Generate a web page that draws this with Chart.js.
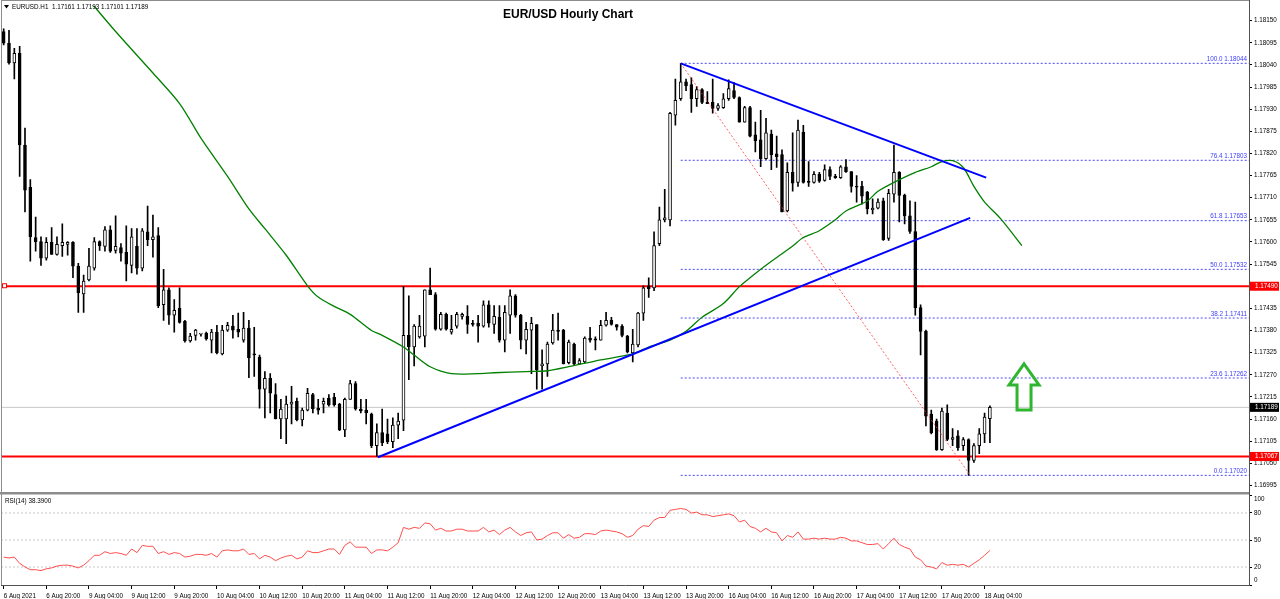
<!DOCTYPE html>
<html>
<head>
<meta charset="utf-8">
<title>EUR/USD Hourly Chart</title>
<script src="https://cdn.jsdelivr.net/npm/chart.js@4.4.1/dist/chart.umd.min.js"></script>
<style>
  html, body { margin: 0; padding: 0; background: #fff; overflow: hidden; }
  #wrap { position: relative; width: 1280px; height: 599px; }
  #priceBox { position: absolute; left: 0; top: 0; width: 1280px; height: 492px; }
  #rsiBox { position: absolute; left: 0; top: 492px; width: 1280px; height: 107px; }
</style>
</head>
<body>
<div id="wrap">
  <div id="priceBox"><canvas id="priceChart"></canvas></div>
  <div id="rsiBox"><canvas id="rsiChart"></canvas></div>
</div>
<script>
const opens = [
  1.18123, 1.18094, 1.18045, 1.18069, 1.17841, 1.17736, 1.17611, 1.17601, 1.17560, 1.17599,
  1.17569, 1.17591, 1.17594, 1.17599, 1.17540, 1.17471, 1.17506, 1.17535, 1.17601, 1.17589,
  1.17630, 1.17579, 1.17586, 1.17574, 1.17542, 1.17589, 1.17535, 1.17625, 1.17606, 1.17616,
  1.17444, 1.17481, 1.17418, 1.17435, 1.17403, 1.17354, 1.17368, 1.17371, 1.17373, 1.17356,
  1.17376, 1.17322, 1.17381, 1.17391, 1.17383, 1.17356, 1.17386, 1.17322, 1.17314, 1.17234,
  1.17261, 1.17221, 1.17160, 1.17160, 1.17197, 1.17204, 1.17158, 1.17182, 1.17221, 1.17187,
  1.17197, 1.17212, 1.17214, 1.17197, 1.17133, 1.17209, 1.17248, 1.17185, 1.17182, 1.17172,
  1.17094, 1.17126, 1.17123, 1.17104, 1.17145, 1.17157, 1.17368, 1.17339, 1.17364, 1.17366,
  1.17481, 1.17469, 1.17383, 1.17420, 1.17376, 1.17391, 1.17415, 1.17415, 1.17398, 1.17398,
  1.17391, 1.17444, 1.17395, 1.17413, 1.17356, 1.17418, 1.17466, 1.17418, 1.17356, 1.17381,
  1.17395, 1.17292, 1.17297, 1.17349, 1.17381, 1.17381, 1.17300, 1.17346, 1.17297, 1.17302,
  1.17361, 1.17359, 1.17356, 1.17393, 1.17405, 1.17395, 1.17391, 1.17366, 1.17324, 1.17344,
  1.17423, 1.17491, 1.17486, 1.17596, 1.17655, 1.17655, 1.17915, 1.17956, 1.17998, 1.17991,
  1.17956, 1.17979, 1.17947, 1.17947, 1.17932, 1.17934, 1.17956, 1.17976, 1.17959, 1.17898,
  1.17934, 1.17866, 1.17854, 1.17807, 1.17868, 1.17819, 1.17817, 1.17677, 1.17773, 1.17748,
  1.17873, 1.17751, 1.17748, 1.17768, 1.17753, 1.17780, 1.17763, 1.17760, 1.17787, 1.17775,
  1.17738, 1.17738, 1.17724, 1.17680, 1.17684, 1.17702, 1.17609, 1.17719, 1.17773, 1.17716,
  1.17665, 1.17626, 1.17437, 1.17378, 1.17172, 1.17155, 1.17084, 1.17175, 1.17109, 1.17118,
  1.17094, 1.17109, 1.17057, 1.17094, 1.17123, 1.17161,
];
const highs = [
  1.18130, 1.18126, 1.18081, 1.18086, 1.17883, 1.17755, 1.17662, 1.17613, 1.17611, 1.17636,
  1.17613, 1.17645, 1.17601, 1.17601, 1.17547, 1.17518, 1.17584, 1.17611, 1.17603, 1.17638,
  1.17640, 1.17665, 1.17596, 1.17640, 1.17633, 1.17633, 1.17633, 1.17689, 1.17667, 1.17636,
  1.17532, 1.17486, 1.17457, 1.17486, 1.17405, 1.17373, 1.17383, 1.17373, 1.17376, 1.17383,
  1.17393, 1.17393, 1.17400, 1.17418, 1.17423, 1.17425, 1.17405, 1.17388, 1.17319, 1.17278,
  1.17273, 1.17248, 1.17209, 1.17217, 1.17241, 1.17212, 1.17187, 1.17236, 1.17224, 1.17209,
  1.17212, 1.17221, 1.17224, 1.17199, 1.17212, 1.17256, 1.17253, 1.17209, 1.17209, 1.17175,
  1.17148, 1.17185, 1.17160, 1.17163, 1.17175, 1.17490, 1.17466, 1.17395, 1.17418, 1.17481,
  1.17535, 1.17474, 1.17425, 1.17423, 1.17418, 1.17425, 1.17423, 1.17442, 1.17405, 1.17418,
  1.17454, 1.17454, 1.17442, 1.17442, 1.17442, 1.17481, 1.17469, 1.17420, 1.17400, 1.17413,
  1.17395, 1.17332, 1.17351, 1.17420, 1.17423, 1.17383, 1.17356, 1.17349, 1.17310, 1.17364,
  1.17388, 1.17364, 1.17405, 1.17425, 1.17413, 1.17395, 1.17395, 1.17368, 1.17383, 1.17425,
  1.17491, 1.17511, 1.17625, 1.17687, 1.17731, 1.17922, 1.18005, 1.18044, 1.18005, 1.18008,
  1.17986, 1.17981, 1.17974, 1.18005, 1.17944, 1.17969, 1.18003, 1.17996, 1.17961, 1.17937,
  1.17937, 1.17898, 1.17927, 1.17907, 1.17878, 1.17863, 1.17829, 1.17797, 1.17871, 1.17903,
  1.17890, 1.17800, 1.17775, 1.17773, 1.17792, 1.17787, 1.17768, 1.17790, 1.17805, 1.17775,
  1.17765, 1.17751, 1.17726, 1.17707, 1.17707, 1.17709, 1.17731, 1.17841, 1.17775, 1.17719,
  1.17702, 1.17699, 1.17444, 1.17381, 1.17182, 1.17160, 1.17187, 1.17195, 1.17136, 1.17131,
  1.17114, 1.17111, 1.17099, 1.17136, 1.17175, 1.17193,
];
const lows = [
  1.18090, 1.18042, 1.18005, 1.17763, 1.17675, 1.17552, 1.17577, 1.17542, 1.17555, 1.17569,
  1.17567, 1.17564, 1.17567, 1.17511, 1.17425, 1.17425, 1.17503, 1.17530, 1.17579, 1.17577,
  1.17574, 1.17572, 1.17552, 1.17503, 1.17523, 1.17520, 1.17528, 1.17591, 1.17562, 1.17437,
  1.17405, 1.17395, 1.17376, 1.17398, 1.17351, 1.17351, 1.17356, 1.17366, 1.17356, 1.17324,
  1.17322, 1.17319, 1.17378, 1.17361, 1.17364, 1.17351, 1.17263, 1.17266, 1.17187, 1.17163,
  1.17175, 1.17160, 1.17111, 1.17099, 1.17148, 1.17155, 1.17143, 1.17180, 1.17175, 1.17172,
  1.17175, 1.17192, 1.17192, 1.17131, 1.17116, 1.17209, 1.17182, 1.17175, 1.17148, 1.17089,
  1.17067, 1.17094, 1.17099, 1.17089, 1.17111, 1.17131, 1.17258, 1.17292, 1.17361, 1.17339,
  1.17469, 1.17381, 1.17381, 1.17381, 1.17371, 1.17386, 1.17408, 1.17373, 1.17391, 1.17351,
  1.17388, 1.17388, 1.17373, 1.17351, 1.17327, 1.17373, 1.17413, 1.17334, 1.17322, 1.17273,
  1.17234, 1.17234, 1.17266, 1.17346, 1.17356, 1.17297, 1.17297, 1.17295, 1.17295, 1.17300,
  1.17351, 1.17332, 1.17356, 1.17391, 1.17393, 1.17381, 1.17364, 1.17324, 1.17302, 1.17339,
  1.17405, 1.17462, 1.17479, 1.17591, 1.17650, 1.17640, 1.17890, 1.17952, 1.17976, 1.17922,
  1.17937, 1.17944, 1.17944, 1.17920, 1.17927, 1.17932, 1.17952, 1.17956, 1.17898, 1.17898,
  1.17861, 1.17824, 1.17787, 1.17805, 1.17780, 1.17785, 1.17675, 1.17675, 1.17726, 1.17738,
  1.17746, 1.17738, 1.17746, 1.17748, 1.17751, 1.17755, 1.17758, 1.17758, 1.17773, 1.17724,
  1.17699, 1.17694, 1.17670, 1.17670, 1.17682, 1.17604, 1.17604, 1.17699, 1.17650, 1.17645,
  1.17621, 1.17418, 1.17319, 1.17143, 1.17123, 1.17082, 1.17082, 1.17106, 1.17094, 1.17082,
  1.17082, 1.17020, 1.17052, 1.17074, 1.17101, 1.17101,
];
const closes = [
  1.18094, 1.18045, 1.18069, 1.17841, 1.17729, 1.17613, 1.17601, 1.17560, 1.17599, 1.17569,
  1.17594, 1.17599, 1.17599, 1.17540, 1.17474, 1.17503, 1.17540, 1.17601, 1.17591, 1.17630,
  1.17577, 1.17589, 1.17572, 1.17545, 1.17613, 1.17535, 1.17628, 1.17606, 1.17613, 1.17442,
  1.17481, 1.17418, 1.17430, 1.17400, 1.17354, 1.17366, 1.17381, 1.17373, 1.17359, 1.17376,
  1.17324, 1.17381, 1.17393, 1.17381, 1.17376, 1.17386, 1.17312, 1.17319, 1.17234, 1.17261,
  1.17224, 1.17160, 1.17185, 1.17197, 1.17202, 1.17158, 1.17182, 1.17224, 1.17185, 1.17182,
  1.17204, 1.17195, 1.17195, 1.17133, 1.17209, 1.17248, 1.17185, 1.17180, 1.17175, 1.17094,
  1.17126, 1.17101, 1.17104, 1.17145, 1.17155, 1.17368, 1.17339, 1.17391, 1.17391, 1.17481,
  1.17469, 1.17383, 1.17420, 1.17383, 1.17383, 1.17420, 1.17420, 1.17395, 1.17395, 1.17391,
  1.17444, 1.17398, 1.17415, 1.17356, 1.17425, 1.17466, 1.17418, 1.17356, 1.17383, 1.17398,
  1.17282, 1.17297, 1.17346, 1.17381, 1.17378, 1.17297, 1.17351, 1.17297, 1.17305, 1.17361,
  1.17356, 1.17356, 1.17393, 1.17405, 1.17395, 1.17388, 1.17368, 1.17327, 1.17346, 1.17423,
  1.17486, 1.17484, 1.17591, 1.17655, 1.17660, 1.17920, 1.17952, 1.17998, 1.17988, 1.17956,
  1.17979, 1.17947, 1.17944, 1.17932, 1.17939, 1.17956, 1.17981, 1.17959, 1.17898, 1.17934,
  1.17863, 1.17851, 1.17807, 1.17871, 1.17817, 1.17812, 1.17675, 1.17773, 1.17746, 1.17878,
  1.17748, 1.17748, 1.17768, 1.17751, 1.17780, 1.17763, 1.17760, 1.17787, 1.17775, 1.17738,
  1.17736, 1.17714, 1.17682, 1.17684, 1.17699, 1.17606, 1.17721, 1.17773, 1.17716, 1.17665,
  1.17626, 1.17437, 1.17378, 1.17167, 1.17126, 1.17084, 1.17180, 1.17109, 1.17114, 1.17089,
  1.17109, 1.17057, 1.17094, 1.17123, 1.17165, 1.17189,
];

const rsi = [
  31, 30, 31, 24, 20, 17, 17, 16, 18, 19,
  21, 22, 22, 21, 19, 22, 27, 33, 33, 37,
  35, 36, 35, 33, 40, 36, 44, 43, 43, 35,
  37, 34, 36, 35, 31, 32, 34, 34, 33, 35,
  31, 38, 39, 38, 38, 40, 34, 35, 29, 33,
  31, 27, 30, 32, 33, 29, 31, 38, 36, 36,
  38, 40, 40, 34, 44, 48, 42, 42, 42, 35,
  39, 39, 38, 42, 47, 64, 62, 64, 63, 69,
  68, 61, 63, 60, 60, 62, 62, 60, 60, 60,
  64, 59, 61, 56, 61, 64, 59, 55, 58, 59,
  50, 51, 55, 58, 58, 52, 56, 52, 53, 57,
  57, 56, 60, 61, 60, 59, 57, 53, 55, 62,
  66, 65, 72, 75, 75, 83, 84, 85, 84, 80,
  81, 78, 78, 76, 77, 78, 79, 77, 70, 72,
  65, 63, 59, 63, 59, 58, 49, 55, 53, 59,
  51, 51, 52, 51, 52, 51, 51, 53, 52, 49,
  49, 47, 45, 45, 46, 40, 46, 52, 45, 42,
  40, 31, 28, 21, 20, 18, 25, 22, 23, 22,
  23, 20, 24, 28, 33, 38.39,
];

// moving average (shifted forward), read at sampled bars
const maIdx = [16, 21, 28, 33, 37, 42, 46, 49, 53, 57, 59, 62, 65, 69, 71, 75, 77, 80, 84, 89,
  92, 98, 102, 106, 112, 118, 121, 125, 128, 131, 135, 138, 140, 143, 148, 150, 153, 156, 158, 162,
  164, 167, 171, 174, 176, 178, 180, 182, 184, 187, 191];
const maVal = [1.18201, 1.18123, 1.18020, 1.17944, 1.17858, 1.17763, 1.17682, 1.17633, 1.17567, 1.17491,
  1.17463, 1.17440, 1.17420, 1.17380, 1.17368, 1.17339, 1.17319, 1.17290, 1.17273, 1.17273,
  1.17275, 1.17278, 1.17280, 1.17290, 1.17307, 1.17322, 1.17339, 1.17356, 1.17378, 1.17413,
  1.17447, 1.17489, 1.17511, 1.17542, 1.17590, 1.17611, 1.17628, 1.17655, 1.17677, 1.17702,
  1.17726, 1.17748, 1.17773, 1.17787, 1.17800, 1.17802, 1.17785, 1.17738, 1.17699, 1.17658,
  1.17591];

const tickIdx = [0, 8, 16, 24, 32, 40, 48, 56, 64, 72, 80, 88, 96, 104, 112, 120, 128, 136, 144, 152, 160, 168, 176, 184];
const tickLabels = ['6 Aug 2021', '6 Aug 20:00', '9 Aug 04:00', '9 Aug 12:00', '9 Aug 20:00', '10 Aug 04:00',
  '10 Aug 12:00', '10 Aug 20:00', '11 Aug 04:00', '11 Aug 12:00', '11 Aug 20:00', '12 Aug 04:00',
  '12 Aug 12:00', '12 Aug 20:00', '13 Aug 04:00', '13 Aug 12:00', '13 Aug 20:00', '16 Aug 04:00',
  '16 Aug 12:00', '16 Aug 20:00', '17 Aug 04:00', '17 Aug 12:00', '17 Aug 20:00', '18 Aug 04:00'];

const priceTicks = [1.16995, 1.17050, 1.17105, 1.17160, 1.17215, 1.17270, 1.17325, 1.17380, 1.17435, 1.17490,
  1.17545, 1.17600, 1.17655, 1.17710, 1.17765, 1.17820, 1.17875, 1.17930, 1.17985, 1.18040, 1.18095, 1.18150];
const rsiTicks = [100, 80, 50, 20, 0];
const rsiLevels = [80, 50, 20];

const fibRatios = [100.0, 76.4, 61.8, 50.0, 38.2, 23.6, 0.0];
const fibPrices = [1.18044, 1.17803, 1.17653, 1.17532, 1.17411, 1.17262, 1.17020];
const fibStartIdx = 127;

const redLevels = [1.17490, 1.17067];
const bidPrice = 1.17189;

const trendUpper = [[127, 1.18044], [184.3, 1.17760]];
const trendLower = [[70.2, 1.17065], [181.3, 1.17660]];
const fibDiagonal = [[127, 1.18044], [181.3, 1.17020]];
const arrowTip = [191.4, 1.17297];

const X_MIN = -0.5;
const X_MAX = 233.6;
const FONT = '"Liberation Sans", Arial, sans-serif';
const SMALL = 6.3;

Chart.defaults.animation = false;
Chart.defaults.events = [];
Chart.defaults.plugins.legend.display = false;
Chart.defaults.plugins.tooltip.enabled = false;

function pts(pairs) {
  return pairs.map(([x, y]) => ({ x, y }));
}

function lineSet(data, color, width, order, dash) {
  return {
    type: 'line',
    data,
    borderColor: color,
    borderWidth: width,
    borderDash: dash || [],
    pointRadius: 0,
    fill: false,
    tension: 0,
    order,
  };
}

const bodies = opens.map((o, i) => ({ x: i, y: [o, closes[i]] }));
const wicks = highs.map((h, i) => ({ x: i, y: [lows[i], h] }));
const bodyColors = opens.map((o, i) => (closes[i] >= o ? '#ffffff' : '#000000'));

const fibSets = fibPrices.map((p) =>
  lineSet(pts([[fibStartIdx, p], [X_MAX, p]]), '#4a4aff', 1, 10, [2, 2]));
const redSets = redLevels.map((p) => lineSet(pts([[X_MIN, p], [X_MAX, p]]), '#ff0000', 2, 10));

function text(ctx, str, x, y, opts = {}) {
  ctx.font = `${opts.bold ? 'bold ' : ''}${opts.size || SMALL}px ${FONT}`;
  ctx.fillStyle = opts.color || '#000';
  ctx.textAlign = opts.align || 'left';
  ctx.textBaseline = opts.baseline || 'middle';
  ctx.fillText(str, x, y);
}

const priceDecor = {
  id: 'priceDecor',
  afterDraw(chart) {
    const { ctx, chartArea: a, scales: { x, y } } = chart;
    ctx.save();

    ctx.strokeStyle = '#8c8c8c';
    ctx.lineWidth = 1;
    ctx.beginPath();
    ctx.moveTo(1, 0.5); ctx.lineTo(a.right, 0.5);
    ctx.moveTo(1.5, 0); ctx.lineTo(1.5, chart.height);
    ctx.stroke();
    ctx.strokeStyle = '#505050';
    ctx.beginPath();
    ctx.moveTo(a.right + 0.5, 0); ctx.lineTo(a.right + 0.5, chart.height);
    ctx.stroke();

    // header with the last bar
    const n = closes.length - 1;
    ctx.fillStyle = '#000';
    ctx.beginPath();
    ctx.moveTo(4, 5); ctx.lineTo(9, 5); ctx.lineTo(6.5, 8.5); ctx.closePath();
    ctx.fill();
    text(ctx, `EURUSD.H1  ${opens[n].toFixed(5)} ${highs[n].toFixed(5)} ${lows[n].toFixed(5)} ${closes[n].toFixed(5)}`, 12, 7);
    text(ctx, 'EUR/USD Hourly Chart', 568, 15, { bold: true, size: 12, align: 'center' });

    // fibonacci labels
    fibPrices.forEach((p, i) => {
      text(ctx, `${fibRatios[i].toFixed(1)} ${p.toFixed(5)}`, a.right - 2, y.getPixelForValue(p) - 4,
        { color: '#3c3cff', align: 'right' });
    });

    // marker on the left end of the upper red line
    const ry = y.getPixelForValue(redLevels[0]);
    ctx.fillStyle = '#fff';
    ctx.strokeStyle = '#ff0000';
    ctx.lineWidth = 1;
    ctx.fillRect(2.5, ry - 2.5, 4, 4);
    ctx.strokeRect(2.5, ry - 2.5, 4, 4);

    // price boxes on the axis
    const boxes = [[redLevels[0], '#ff0000'], [redLevels[1], '#ff0000'], [bidPrice, '#000000']];
    boxes.forEach(([p, c]) => {
      const py = y.getPixelForValue(p);
      ctx.fillStyle = c;
      ctx.fillRect(a.right + 1, py - 4.5, chart.width - a.right - 2, 9);
      text(ctx, p.toFixed(5), a.right + 6, py, { color: '#fff' });
    });

    // up arrow
    const ax = x.getPixelForValue(arrowTip[0]);
    const ay = y.getPixelForValue(arrowTip[1]);
    const shape = [[0, 0], [15, 21], [7, 21], [7, 46], [-7, 46], [-7, 21], [-15, 21]];
    ctx.strokeStyle = '#2fb52f';
    ctx.lineWidth = 3;
    ctx.lineJoin = 'miter';
    ctx.beginPath();
    shape.forEach(([dx, dy], i) => (i ? ctx.lineTo(ax + dx, ay + dy) : ctx.moveTo(ax + dx, ay + dy)));
    ctx.closePath();
    ctx.stroke();

    ctx.restore();
  },
};

new Chart(document.getElementById('priceChart'), {
  type: 'bar',
  data: {
    datasets: [
      ...fibSets,
      ...redSets,
      lineSet(pts([[X_MIN, bidPrice], [X_MAX, bidPrice]]), '#c8c8c8', 1, 10),
      {
        type: 'bar', data: wicks, backgroundColor: '#000', borderWidth: 0,
        barThickness: 1, grouped: false, order: 9,
      },
      {
        type: 'bar', data: bodies, backgroundColor: bodyColors, borderColor: '#000', borderWidth: 1,
        borderSkipped: false, barThickness: 3, minBarLength: 1, grouped: false, order: 8,
      },
      lineSet(pts(fibDiagonal), 'rgba(255,60,60,0.8)', 1, 3, [2, 2]),
      { ...lineSet(maIdx.map((x, i) => ({ x, y: maVal[i] })), '#008000', 1.3, 2), tension: 0.3 },
      lineSet(pts(trendUpper), '#0000ff', 2, 1),
      lineSet(pts(trendLower), '#0000ff', 2, 1),
    ],
  },
  options: {
    responsive: true,
    maintainAspectRatio: false,
    layout: { padding: { left: 1, top: 4, right: 0, bottom: 1 } },
    scales: {
      x: { type: 'linear', display: false, min: X_MIN, max: X_MAX, offset: false },
      y: {
        type: 'linear',
        position: 'right',
        min: 1.16993,
        max: 1.18187,
        afterFit: (s) => { s.width = 31; },
        afterBuildTicks: (s) => { s.ticks = priceTicks.map((v) => ({ value: v })); },
        ticks: {
          callback: (v) => v.toFixed(5),
          font: { family: FONT, size: SMALL },
          color: '#000',
          padding: 2,
          autoSkip: false,
        },
        grid: { drawOnChartArea: false, tickLength: 3, color: '#000' },
        border: { color: '#505050' },
      },
    },
  },
  plugins: [priceDecor],
});

const rsiDecor = {
  id: 'rsiDecor',
  afterDraw(chart) {
    const { ctx, chartArea: a, scales: { y } } = chart;
    ctx.save();
    ctx.fillStyle = '#8c8c8c';
    ctx.fillRect(0, 0, a.right, 2.5);
    ctx.strokeStyle = '#8c8c8c';
    ctx.lineWidth = 1;
    ctx.beginPath();
    ctx.moveTo(1.5, 0); ctx.lineTo(1.5, a.bottom);
    ctx.stroke();
    ctx.strokeStyle = '#505050';
    ctx.beginPath();
    ctx.moveTo(a.right + 0.5, 0); ctx.lineTo(a.right + 0.5, a.bottom);
    ctx.stroke();

    text(ctx, `RSI(14) ${rsi[rsi.length - 1].toFixed(4)}`, 5, 9);
    rsiTicks.forEach((v) => {
      let py = y.getPixelForValue(v);
      if (v === 100) py += 4;
      if (v === 0) py -= 5;
      text(ctx, String(v), a.right + 5, py);
    });
    ctx.restore();
  },
};

new Chart(document.getElementById('rsiChart'), {
  type: 'line',
  data: {
    datasets: [
      ...rsiLevels.map((v) => lineSet(pts([[X_MIN, v], [X_MAX, v]]), '#c8c8c8', 1, 5, [2, 2])),
      lineSet(rsi.map((v, i) => ({ x: i, y: v })), '#ff4d4d', 1, 1),
    ],
  },
  options: {
    responsive: true,
    maintainAspectRatio: false,
    layout: { padding: { left: 1, top: 3, right: 0, bottom: 0 } },
    scales: {
      x: {
        type: 'linear',
        min: X_MIN,
        max: X_MAX,
        afterFit: (s) => { s.height = 14; },
        afterBuildTicks: (s) => { s.ticks = tickIdx.map((v) => ({ value: v })); },
        ticks: {
          callback: (v) => tickLabels[tickIdx.indexOf(v)],
          align: 'start',
          autoSkip: false,
          maxRotation: 0,
          minRotation: 0,
          font: { family: FONT, size: SMALL },
          color: '#000',
          padding: 3,
        },
        grid: { drawOnChartArea: false, tickLength: 4, color: '#000' },
        border: { color: '#505050' },
      },
      y: {
        type: 'linear',
        position: 'right',
        min: 0,
        max: 100,
        afterFit: (s) => { s.width = 31; },
        afterBuildTicks: (s) => { s.ticks = rsiTicks.map((v) => ({ value: v })); },
        ticks: { display: false },
        grid: { drawOnChartArea: false, tickLength: 3, color: '#000' },
        border: { color: '#505050' },
      },
    },
  },
  plugins: [rsiDecor],
});
</script>
</body>
</html>
